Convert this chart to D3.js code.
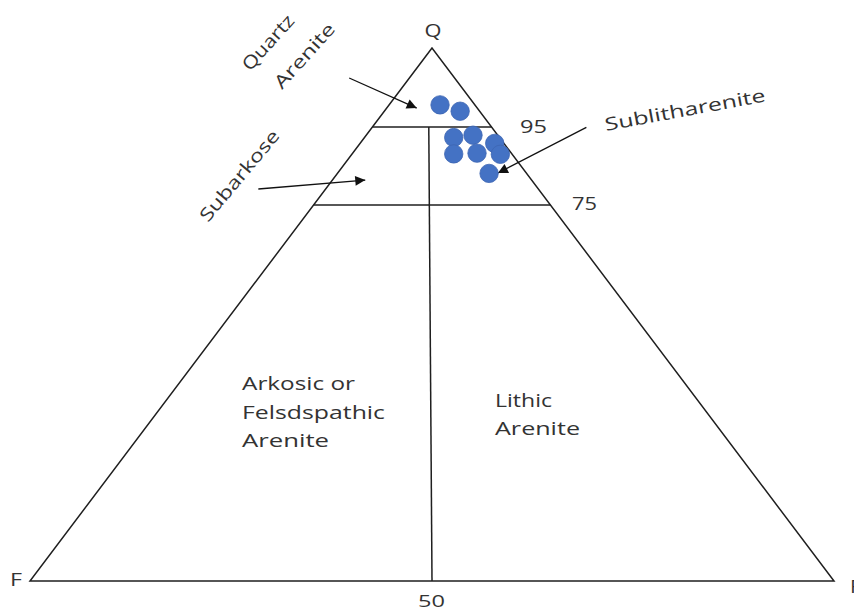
<!DOCTYPE html>
<html><head><meta charset="utf-8">
<script src="https://cdn.jsdelivr.net/npm/d3@7"></script>
<style>html,body{margin:0;padding:0;background:#fff;}svg{display:block;}</style>
</head><body>
<svg id="c" width="854" height="612"></svg>
<script>
// ---- data (x = % along F→R base, q = Q %) ----
const vertexNames = ["Q", "F", "R"];
const vertexX = [50, 0, 100];
const vertexQ = [100, 0, 0];
const qBoundaries = [95, 75];
const qBoundaryLabels = ["95", "75"];
const dividerX = [49.6, 50];
const dividerQ = [95, 0];
const dividerLabel = "50";
const sampleX = [51.0, 53.5, 52.7, 55.1, 57.8, 52.7, 55.6, 58.5, 57.1];
const sampleQ = [96.4, 96.0, 92.3, 92.9, 90.8, 88.1, 88.3, 88.0, 83.1];
const arrowNames = ["Quartz Arenite", "Subarkose", "Sublitharenite"];
const arrowX0 = [39.7, 28.4, 69.2];
const arrowQ0 = [98.1, 79.1, 94.9];
const arrowX1 = [48.1, 41.7, 58.2];
const arrowQ1 = [96.2, 81.4, 83.2];
const fieldLeft = ["Arkosic or", "Felsdspathic", "Arenite"];
const fieldRight = ["Lithic", "Arenite"];

const svg = d3.select("#c");
const x = d3.scaleLinear().domain([0, 100]).range([30, 834]);
const y = d3.scaleLinear().domain([0, 75, 95, 100]).range([581, 205, 127, 48]);

const ink = "#1f1f1f", txt = "#333333";
const font = "'Open Sans', 'Noto Sans', sans-serif";

// triangle
const tri = vertexX.map((v, i) => [x(v), y(vertexQ[i])]);
svg.append("path").attr("d", d3.line()(tri) + "Z")
  .attr("fill", "none").attr("stroke", ink).attr("stroke-width", 1.5);

// horizontal boundaries
const apex = tri[0], bl = tri[1], br = tri[2];
function edgeX(py, a, b) { const t = (py - a[1]) / (b[1] - a[1]); return a[0] + t * (b[0] - a[0]); }
svg.selectAll(".hb").data(qBoundaries).join("line")
  .attr("x1", d => edgeX(y(d), apex, bl)).attr("x2", d => edgeX(y(d), apex, br))
  .attr("y1", d => y(d)).attr("y2", d => y(d))
  .attr("stroke", ink).attr("stroke-width", 1.5);

// divider
svg.append("line")
  .attr("x1", x(dividerX[0])).attr("y1", y(dividerQ[0]))
  .attr("x2", x(dividerX[1])).attr("y2", y(dividerQ[1]))
  .attr("stroke", ink).attr("stroke-width", 1.5);

// arrows
const defs = svg.append("defs");
defs.append("marker").attr("id", "ah").attr("viewBox", "0 0 10 10")
  .attr("refX", 10).attr("refY", 5).attr("markerWidth", 13).attr("markerHeight", 10)
  .attr("markerUnits", "userSpaceOnUse").attr("orient", "auto")
  .append("path").attr("d", "M0,0L10,5L0,10Z").attr("fill", "#111");
arrowNames.forEach((n, i) => {
  svg.append("line")
    .attr("x1", x(arrowX0[i])).attr("y1", y(arrowQ0[i]))
    .attr("x2", x(arrowX1[i])).attr("y2", y(arrowQ1[i]))
    .attr("stroke", "#111").attr("stroke-width", 1.3).attr("marker-end", "url(#ah)");
});

// samples
svg.selectAll(".pt").data(sampleX).join("circle")
  .attr("cx", d => x(d)).attr("cy", (d, i) => y(sampleQ[i])).attr("r", 9.2)
  .attr("fill", "#4472c4").attr("stroke", "#3d66b3").attr("stroke-width", 0.8);

// text helper
function label(t, px, py, len, opts = {}) {
  const el = svg.append("text").text(t)
    .attr("x", px).attr("y", py)
    .attr("font-family", font).attr("font-size", opts.size || 18)
    .attr("fill", txt).attr("text-anchor", opts.anchor || "start");
  if (len) el.attr("textLength", len).attr("lengthAdjust", "spacingAndGlyphs");
  if (opts.rot) el.attr("transform", `rotate(${opts.rot},${px},${py})`);
  return el;
}

// vertex labels
label(vertexNames[0], 433, 37, 17, {anchor: "middle"});
label(vertexNames[1], 10, 586, 12);
label(vertexNames[2], 850, 593, 13);

// boundary labels
label(qBoundaryLabels[0], 520, 133, 27);
label(qBoundaryLabels[1], 572, 210, 25);
label(dividerLabel, 418, 607, 27, {size: 17});

// field labels
const leftBase = [390, 418.5, 447];
const leftLen = [113, 143, 87];
fieldLeft.forEach((t, i) => label(t, 242, leftBase[i], leftLen[i]));
const rightBase = [406.5, 435];
const rightLen = [57, 85];
fieldRight.forEach((t, i) => label(t, 495, rightBase[i], rightLen[i]));

// rotated labels
label("Quartz", 250, 72, 68, {rot: -48});
label("Arenite", 282, 90, 81, {rot: -48});
label("Subarkose", 208, 223, 113, {rot: -50});
label("Sublitharenite", 606, 131, 163, {rot: -10.5});
</script>
</body></html>
